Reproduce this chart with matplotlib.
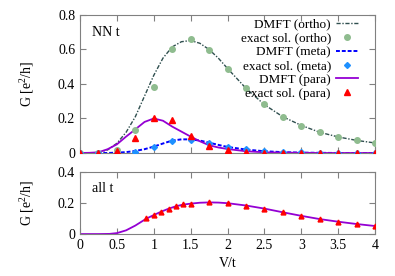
import numpy as np
import matplotlib
matplotlib.use('Agg')
import matplotlib.pyplot as plt

plt.rcParams['font.family'] = ['Liberation Serif', 'DejaVu Serif']
plt.rcParams['mathtext.fontset'] = 'custom'
plt.rcParams['mathtext.rm'] = 'Liberation Serif'

# exact solution points (every 0.25)
x_exact = [0, 0.25, 0.5, 0.75, 1.0, 1.25, 1.5, 1.75, 2.0, 2.25, 2.5, 2.75, 3.0, 3.25, 3.5, 3.75, 4.0]
ortho_exact = [0, 0, 0.02, 0.133, 0.385, 0.603, 0.66, 0.595, 0.485, 0.375, 0.282, 0.21, 0.158, 0.12, 0.093, 0.073, 0.058]
meta_exact = [0, 0, 0, 0.007, 0.036, 0.072, 0.078, 0.06, 0.037, 0.025, 0.013, 0.006, 0.003, 0.001, 0, 0, 0]
para_exact = [0, 0.002, 0.012, 0.088, 0.205, 0.19, 0.1, 0.042, 0.015, 0.005, 0.002, 0, 0, 0, 0, 0, 0]

# DMFT curves
x_dmft = [0, 0.125, 0.25, 0.375, 0.5, 0.625, 0.75, 0.875, 1.0, 1.125, 1.25, 1.375, 1.5, 1.625, 1.75, 1.875,
          2.0, 2.25, 2.5, 2.75, 3.0, 3.25, 3.5, 3.75, 4.0]
ortho_dmft = [0, 0, 0.003, 0.018, 0.056, 0.12, 0.21, 0.33, 0.45, 0.55, 0.615, 0.645, 0.652, 0.636, 0.6, 0.55,
              0.49, 0.375, 0.28, 0.21, 0.16, 0.12, 0.093, 0.073, 0.058]
meta_dmft = [0, 0, 0, 0, 0.002, 0.005, 0.012, 0.022, 0.037, 0.055, 0.072, 0.079, 0.079, 0.072, 0.06, 0.047,
             0.035, 0.02, 0.01, 0.005, 0.002, 0.001, 0, 0, 0]
para_dmft = [0, 0.001, 0.004, 0.022, 0.05, 0.095, 0.137, 0.18, 0.2, 0.187, 0.153, 0.124, 0.095, 0.068, 0.045, 0.032,
             0.023, 0.01, 0.004, 0.002, 0.001, 0, 0, 0, 0]

# all t panel
x_all = [0.9, 1.0, 1.1, 1.2, 1.3, 1.4, 1.5, 1.75, 2.0, 2.25, 2.5, 2.75, 3.0, 3.25, 3.5, 3.75, 4.0]
all_exact = [0.102, 0.123, 0.145, 0.164, 0.182, 0.195, 0.197, 0.206, 0.201, 0.184, 0.164, 0.141,
             0.117, 0.097, 0.08, 0.065, 0.052]
x_all_dmft = [0, 0.25, 0.4, 0.5, 0.625, 0.75, 0.9, 1.0, 1.1, 1.2, 1.3, 1.4, 1.5, 1.625, 1.75, 1.875, 2.0, 2.25, 2.5,
              2.75, 3.0, 3.25, 3.5, 3.75, 4.0]
all_dmft = [0, 0, 0.001, 0.006, 0.024, 0.055, 0.1, 0.123, 0.145, 0.164, 0.18, 0.191, 0.197, 0.203, 0.205, 0.204, 0.2,
            0.185, 0.165, 0.141, 0.118, 0.097, 0.08, 0.065, 0.052]

fig = plt.figure(figsize=(3.95, 2.76), dpi=100)
ax1 = fig.add_axes([0.2025, 0.4457, 0.747, 0.5])
ax2 = fig.add_axes([0.2025, 0.152, 0.747, 0.2236])

c_ortho = '#2f4f4f'
c_ortho_pt = '#8fbc8f'
c_meta = '#0000ff'
c_meta_pt = '#1e90ff'
c_para = '#9400d3'
c_para_pt = '#ff0000'

ax1.plot(x_dmft, ortho_dmft, color=c_ortho, lw=1.0, ls=(0, (3, 1.2, 1, 1.2)), label='DMFT (ortho)', zorder=2)
ax1.plot(x_exact, ortho_exact, 'o', color=c_ortho_pt, ms=4, label='exact sol. (ortho)', zorder=3)
ax1.plot(x_dmft, meta_dmft, color=c_meta, lw=1.4, ls=(0, (2, 1)), label='DMFT (meta)', zorder=2)
ax1.plot(x_exact, meta_exact, 'D', color=c_meta_pt, ms=3, label='exact sol. (meta)', zorder=3)
ax1.plot(x_dmft, para_dmft, color=c_para, lw=1.3, label='DMFT (para)', zorder=2)
ax1.plot(x_exact, para_exact, '^', color=c_para_pt, ms=4, label='exact sol. (para)', zorder=3)

ax2.plot(x_all_dmft, all_dmft, color=c_para, lw=1.3, zorder=2)
ax2.plot(x_all, all_exact, '^', color=c_para_pt, ms=3.5, zorder=3)

for ax in (ax1, ax2):
    ax.set_xlim(0, 4)
    ax.set_xticks(np.arange(0, 4.01, 0.5))
    ax.tick_params(direction='in', top=True, right=True, labelsize=10, length=4, color='#808080')
    for s in ax.spines.values():
        s.set_color('#808080')
ax1.set_ylim(0, 0.8)
ax1.set_yticks([0, 0.2, 0.4, 0.6, 0.8])
ax1.set_yticklabels(['0', '0.2', '0.4', '0.6', '0.8'])
ax1.set_xticklabels([])
ax2.set_ylim(0, 0.4)
ax2.set_yticks([0, 0.2, 0.4])
ax2.set_yticklabels(['0', '0.2', '0.4'])
ax2.set_xticklabels(['0', '0.5', '1', '1.5', '2', '2.5', '3', '3.5', '4'])

ax1.set_ylabel('G [e$^2$/h]', fontsize=10)
ax2.set_ylabel('G [e$^2$/h]', fontsize=10)
ax2.set_xlabel('V/t', fontsize=10)
ax1.yaxis.set_label_coords(-0.15, 0.5)
ax2.yaxis.set_label_coords(-0.15, 0.5)

ax1.text(0.04, 0.87, 'NN t', transform=ax1.transAxes, fontsize=10, va='center')
ax2.text(0.04, 0.745, 'all t', transform=ax2.transAxes, fontsize=10, va='center')

ax1.legend(loc='upper right', bbox_to_anchor=(0.942, 0.975), frameon=False, markerfirst=False,
           fontsize=9.5, handlelength=1.65, labelspacing=0.12, borderaxespad=0, borderpad=0,
           handletextpad=0.4)

fig.savefig('out.png', dpi=100)
